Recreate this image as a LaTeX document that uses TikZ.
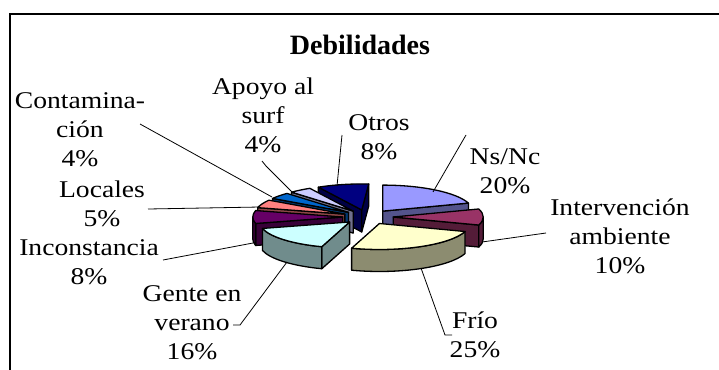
\documentclass[tikz,border=0pt]{standalone}
\usepackage{fontspec}
\setmainfont{Liberation Serif}[FakeStretch=1.15]
\newfontfamily\ttlfont{Liberation Serif}
\usetikzlibrary{calc}
\definecolor{cNs}{HTML}{9999FF}
\definecolor{cIv}{HTML}{993366}
\definecolor{cFr}{HTML}{FFFFCC}
\definecolor{cGe}{HTML}{CCFFFF}
\definecolor{cIn}{HTML}{660066}
\definecolor{cLo}{HTML}{FF8080}
\definecolor{cCo}{HTML}{0066CC}
\definecolor{cAp}{HTML}{CCCCFF}
\definecolor{cOt}{HTML}{000080}
\def\pcx{368}\def\pcy{217}\def\pra{90}\def\prb{26}\def\pdd{22}\def\pfx{0.28}
\newcommand\pieslice[5]{%
  \pgfmathsetmacro\pmang{(#1+#2)/2}%
  \pgfmathsetmacro\papx{\pcx+\pfx*\pra*sin(\pmang)}%
  \pgfmathsetmacro\papy{\pcy-\pfx*\prb*cos(\pmang)}%
  \coordinate (#5) at (\papx,\papy);%
  \coordinate (#5s) at ($(#5)+({\pra*sin(#1)},{-\prb*cos(#1)})$);%
  \coordinate (#5e) at ($(#5)+({\pra*sin(#2)+#4},{-\prb*cos(#2)})$);%
  \pgfmathtruncatemacro\pvs{sin(#1)<-0.001}%
  \ifnum\pvs=1 \path[edge,fill=#3!55!black] (#5)--(#5s)--($(#5s)+(0,\pdd)$)--($(#5)+(0,\pdd)$)--cycle;\fi
  \pgfmathtruncatemacro\pve{(sin(#2)>0.001)||(#4>0)}%
  \ifnum\pve=1 \path[edge,fill=#3!55!black] (#5)--(#5e)--($(#5e)+(0,\pdd)$)--($(#5)+(0,\pdd)$)--cycle;\fi
  \pgfmathsetmacro\plo{max(#1,90)}%
  \pgfmathsetmacro\phiang{min(#2,270)}%
  \pgfmathtruncatemacro\pvw{\phiang>\plo}%
  \ifnum\pvw=1 \path[edge,fill=#3!55!black] ($(#5)+({\pra*sin(\plo)},{-\prb*cos(\plo)})$) arc[start angle=\plo-90,end angle=\phiang-90,x radius=\pra,y radius=\prb] -- ++(0,\pdd) arc[start angle=\phiang-90,end angle=\plo-90,x radius=\pra,y radius=\prb] -- cycle;\fi
  \path[edge,fill=#3] (#5)--(#5s) arc[start angle=#1-90,end angle=#2-90,x radius=\pra,y radius=\prb] -- (#5e) -- cycle;%
}
\begin{document}
\begin{tikzpicture}[x=1pt,y=-1pt,
  lbl/.style={font=\fontsize{24}{29}\selectfont, align=center, inner sep=0pt},
  ttl/.style={font=\ttlfont\fontsize{28}{32}\selectfont\bfseries, inner sep=0pt},
  leader/.style={draw=black, line width=0.8pt},
  edge/.style={draw=black, line width=1.3pt, line join=round}]
\useasboundingbox (0,0) rectangle (719,369);
\fill[white] (0,0) rectangle (719,369);
\draw[line width=2pt] (9.5,380) -- (9.5,14.5) -- (730,14.5);
\node[ttl] (title) at (360,45) {Debilidades};
% slices, back to front
\pieslice{331.2}{360}{cOt}{7}{sOt}
\pieslice{0}{72}{cNs}{0}{sNs}
\pieslice{316.8}{331.2}{cAp}{0}{sAp}
\pieslice{302.4}{316.8}{cCo}{0}{sCo}
\pieslice{284.4}{302.4}{cLo}{0}{sLo}
\pieslice{72}{108}{cIv}{0}{sIv}
\pieslice{255.6}{284.4}{cIn}{0}{sIn}
\pieslice{198}{255.6}{cGe}{0}{sGe}
\pieslice{108}{198}{cFr}{0}{sFr}
% labels
\node[lbl] (lNs) at (505,171.5) {Ns/Nc\\20\%};
\node[lbl] (lIv) at (620,236) {Intervención\\ambiente\\10\%};
\node[lbl] (lFr) at (475,335) {Frío\\25\%};
\node[lbl] (lGe) at (192,323) {Gente en\\verano\\16\%};
\node[lbl] (lIn) at (89,262) {Inconstancia\\8\%};
\node[lbl] (lLo) at (102,204) {Locales\\5\%};
\node[lbl] (lCo) at (80,130) {Contamina-\\ción\\4\%};
\node[lbl] (lAp) at (263,115) {Apoyo al\\surf\\4\%};
\node[lbl] (lOt) at (379,137) {Otros\\8\%};
% leader points
\coordinate (kNs1) at (466,135); \coordinate (kNs2) at (433,192);
\coordinate (kIv1) at (546,233); \coordinate (kIv2) at (482,242);
\coordinate (kFr1) at (452,335); \coordinate (kFr2) at (445,335); \coordinate (kFr3) at (421,268);
\coordinate (kGe1) at (233,325); \coordinate (kGe2) at (240,325); \coordinate (kGe3) at (287,262);
\coordinate (kIn1) at (163,260); \coordinate (kIn2) at (253,243);
\coordinate (kLo1) at (148,209); \coordinate (kLo2) at (260,207);
\coordinate (kCo1) at (140,124); \coordinate (kCo2) at (272,197);
\coordinate (kAp1) at (262,161); \coordinate (kAp2) at (266,166); \coordinate (kAp3) at (293,193);
\coordinate (kOt1) at (342,135); \coordinate (kOt2) at (337,186);
\draw[leader] (kNs1) -- (kNs2);
\draw[leader] (kIv1) -- (kIv2);
\draw[leader] (kFr1) -- (kFr2) -- (kFr3);
\draw[leader] (kGe1) -- (kGe2) -- (kGe3);
\draw[leader] (kIn1) -- (kIn2);
\draw[leader] (kLo1) -- (kLo2);
\draw[leader] (kCo1) -- (kCo2);
\draw[leader] (kAp1) -- (kAp2) -- (kAp3);
\draw[leader] (kOt1) -- (kOt2);
\end{tikzpicture}
\end{document}
